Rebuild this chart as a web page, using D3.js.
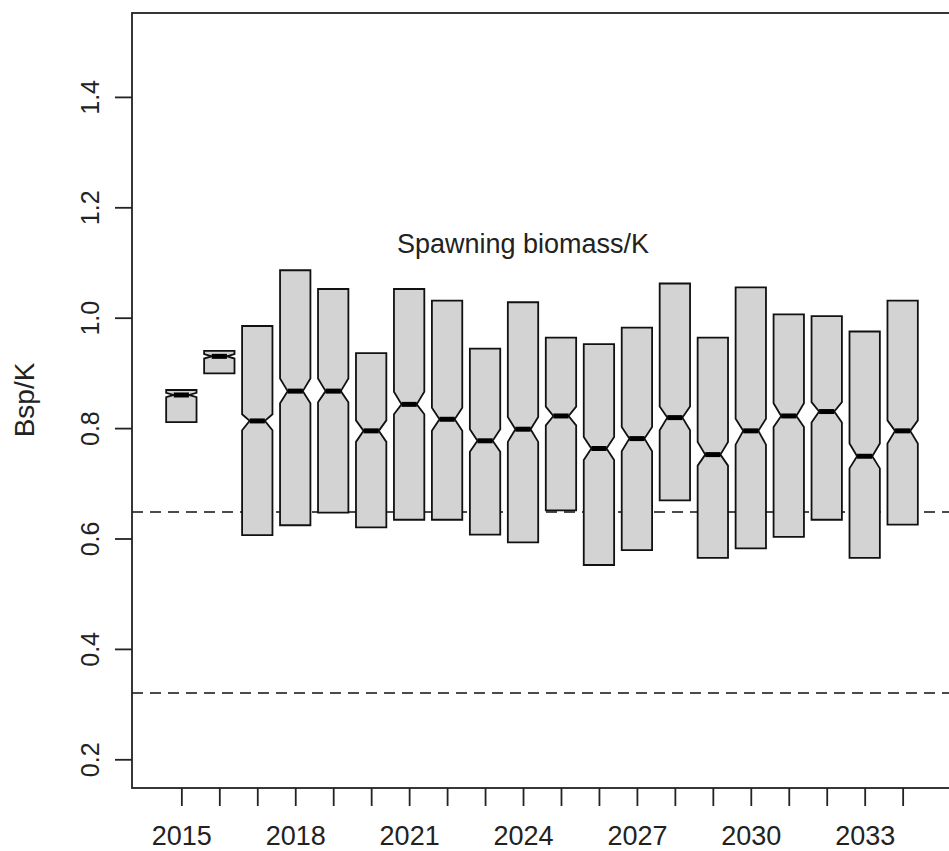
<!DOCTYPE html>
<html>
<head>
<meta charset="utf-8">
<script src="https://cdn.jsdelivr.net/npm/d3@7"></script>
<style>
  html, body { margin: 0; padding: 0; background: #fff; }
  svg { display: block; }
  text { font-family: "Liberation Sans", Arial, sans-serif; fill: #222; }
</style>
</head>
<body>
<svg id="chart" width="949" height="851"></svg>
<script>
// ---- data ----
const years = [2015, 2016, 2017, 2018, 2019, 2020, 2021, 2022, 2023, 2024,
               2025, 2026, 2027, 2028, 2029, 2030, 2031, 2032, 2033, 2034];
const upperHinge = [0.869, 0.940, 0.985, 1.086, 1.052, 0.936, 1.052, 1.031, 0.944, 1.028,
                    0.964, 0.952, 0.982, 1.062, 0.964, 1.055, 1.006, 1.003, 0.975, 1.031];
const medians    = [0.860, 0.930, 0.813, 0.867, 0.867, 0.795, 0.843, 0.816, 0.777, 0.798,
                    0.822, 0.763, 0.781, 0.819, 0.752, 0.795, 0.822, 0.830, 0.749, 0.795];
const lowerHinge = [0.811, 0.899, 0.606, 0.624, 0.647, 0.620, 0.634, 0.634, 0.607, 0.593,
                    0.651, 0.552, 0.579, 0.669, 0.565, 0.582, 0.603, 0.634, 0.565, 0.625];
const notchUpper = [0.864, 0.934, 0.825, 0.890, 0.890, 0.814, 0.866, 0.837, 0.798, 0.820,
                    0.839, 0.784, 0.802, 0.839, 0.775, 0.817, 0.845, 0.847, 0.772, 0.814];
const notchLower = [0.856, 0.926, 0.796, 0.845, 0.847, 0.775, 0.825, 0.795, 0.757, 0.775,
                    0.805, 0.742, 0.758, 0.796, 0.732, 0.770, 0.802, 0.810, 0.727, 0.772];
const yTicks = [0.2, 0.4, 0.6, 0.8, 1.0, 1.2, 1.4];
const labeledYears = [2015, 2018, 2021, 2024, 2027, 2030, 2033];
const refLines = [0.648, 0.32];
const titleText = "Spawning biomass/K";
const yLabel = "Bsp/K";
const yLimits = [0.2, 1.5];

// ---- layout ----
const svg = d3.select("#chart");
const plot = { left: 132, right: 952, top: 13, bottom: 788 };
const n = years.length;
const xPad = 0.04 * n;
const x = d3.scaleLinear().domain([0.5 - xPad, n + 0.5 + xPad]).range([plot.left, plot.right]);
const yPad = 0.04 * (yLimits[1] - yLimits[0]);
const y = d3.scaleLinear().domain([yLimits[0] - yPad, yLimits[1] + yPad]).range([plot.bottom, plot.top]);

const step = x(2) - x(1);
const halfW = 0.8 * step / 2;
const notchFrac = 0.5;
const fontFam = "'Liberation Sans', Arial, sans-serif";

// reference dashed lines
svg.append("g").selectAll("line").data(refLines).join("line")
  .attr("x1", plot.left).attr("x2", plot.right)
  .attr("y1", d => y(d)).attr("y2", d => y(d))
  .attr("stroke", "#111").attr("stroke-width", 1.6)
  .attr("stroke-dasharray", "11,7");

// boxes (R bxp-style notched polygon)
const boxes = years.map((yr, i) => ({
  pos: i + 1, q1: lowerHinge[i], med: medians[i], q3: upperHinge[i],
  c1: notchLower[i], c2: notchUpper[i]
}));

const boxG = svg.append("g");
boxes.forEach(b => {
  const cx = x(b.pos);
  const xs = [-1, 1, 1, notchFrac, 1, 1, -1, -1, -notchFrac, -1].map(k => cx + k * halfW);
  const ys = [b.q1, b.q1, b.c1, b.med, b.c2, b.q3, b.q3, b.c2, b.med, b.c1].map(v => y(v));
  const pts = xs.map((xx, j) => [xx, ys[j]]);
  boxG.append("path")
    .attr("d", d3.line()(pts) + "Z")
    .attr("fill", "#d3d3d3")
    .attr("stroke", "#111")
    .attr("stroke-width", 1.8)
    .attr("stroke-linejoin", "miter");
  boxG.append("line")
    .attr("x1", cx - halfW * notchFrac).attr("x2", cx + halfW * notchFrac)
    .attr("y1", y(b.med)).attr("y2", y(b.med))
    .attr("stroke", "#000").attr("stroke-width", 5);
});

// frame
svg.append("rect")
  .attr("x", plot.left).attr("y", plot.top)
  .attr("width", plot.right - plot.left).attr("height", plot.bottom - plot.top)
  .attr("fill", "none").attr("stroke", "#222").attr("stroke-width", 1.8);

// y axis
const yAxis = d3.axisLeft(y).tickValues(yTicks).tickSize(17).tickFormat(d3.format(".1f"));
const gy = svg.append("g").attr("transform", `translate(${plot.left},0)`).call(yAxis);
gy.select(".domain").remove();
gy.selectAll(".tick line").attr("stroke", "#222").attr("stroke-width", 1.8);
gy.selectAll(".tick text")
  .attr("x", null).attr("dy", null)
  .attr("transform", "translate(-33,0) rotate(-90)")
  .attr("text-anchor", "middle")
  .attr("font-size", 25)
  .style("font-family", fontFam)
  .attr("fill", "#222");

// x axis
const xAxis = d3.axisBottom(x).tickValues(years.map((d, i) => i + 1)).tickSize(18)
  .tickFormat(i => labeledYears.includes(years[i - 1]) ? String(years[i - 1]) : "");
const gx = svg.append("g").attr("transform", `translate(0,${plot.bottom})`).call(xAxis);
gx.select(".domain").remove();
gx.selectAll(".tick line").attr("stroke", "#222").attr("stroke-width", 1.8);
gx.selectAll(".tick text")
  .attr("y", 57).attr("dy", null)
  .attr("font-size", 27)
  .style("font-family", fontFam)
  .attr("fill", "#222");

// title inside plot
svg.append("text")
  .attr("x", 523).attr("y", 253)
  .attr("text-anchor", "middle")
  .attr("font-size", 27)
  .text(titleText);

// y label
svg.append("text")
  .attr("transform", "translate(34,400) rotate(-90)")
  .attr("text-anchor", "middle")
  .attr("font-size", 28)
  .text(yLabel);
</script>
</body>
</html>
